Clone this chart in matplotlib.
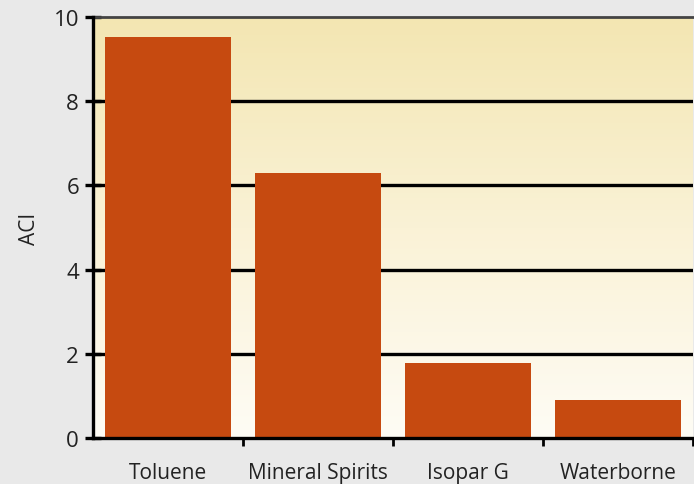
import numpy as np
import matplotlib
matplotlib.use("Agg")
import matplotlib.pyplot as plt
from matplotlib.colors import LinearSegmentedColormap

categories = ["Toluene", "Mineral Spirits", "Isopar G", "Waterborne"]
aci_values = [9.52, 6.29, 1.78, 0.90]
y_ticks = [0, 2, 4, 6, 8, 10]

plt.rcParams['font.family'] = ['Open Sans', 'DejaVu Sans']

fig = plt.figure(figsize=(6.94, 4.85), dpi=100, facecolor='#e9e9e9')
ax = fig.add_axes([93/694, 46/485, 600/694, 421/485])

x = np.arange(len(categories))
ax.set_xlim(-0.5, len(categories) - 0.5)
ax.set_ylim(0, 10)

# gradient background
cmap = LinearSegmentedColormap.from_list('bg', ['#fefcf5', '#faf2d6', '#f3e6b2'])
grad = np.linspace(0, 1, 256).reshape(-1, 1)
ax.imshow(grad, extent=[-0.5, len(categories) - 0.5, 0, 10], origin='lower',
          aspect='auto', cmap=cmap, zorder=0)

for yv in y_ticks[1:-1]:
    ax.axhline(yv, color='black', lw=2.4, zorder=1)

ax.bar(x, aci_values, width=0.84, color='#c64a10', zorder=2)

ax.set_yticks(y_ticks)
ax.set_yticklabels([str(t) for t in y_ticks], fontsize=16, color='#222222')
ax.set_xticks(x)
ax.set_xticklabels(categories, fontsize=15, color='#222222')
ax.set_xticks(np.arange(len(categories)) + 0.5, minor=True)
ax.tick_params(axis='x', which='major', length=0, pad=17)
ax.tick_params(axis='x', which='minor', length=6, width=2, color='black', direction='out')
ax.tick_params(axis='y', which='major', length=12, width=2.4, direction='inout', pad=4, color='black')

ax.set_ylabel('ACI', fontsize=15, color='#222222', labelpad=10)

for s in ['left', 'bottom']:
    ax.spines[s].set_linewidth(2.4)
    ax.spines[s].set_color('black')
    ax.spines[s].set_zorder(3)
ax.spines['top'].set_linewidth(2)
ax.spines['top'].set_color('#444444')
ax.spines['right'].set_visible(False)

fig.savefig('out.png', dpi=100, facecolor=fig.get_facecolor())
